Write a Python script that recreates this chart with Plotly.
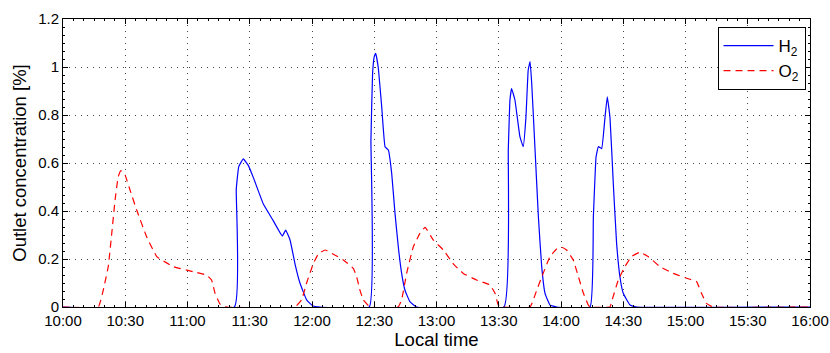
import pandas as pd
import plotly.graph_objects as go

# minutes after 10:00
h2_min = [0, 82.6, 83.5, 84.7, 86.9, 89.3, 91.7, 96.5, 101.3, 105.7, 107.3, 109.4, 111.8, 114.2, 117.4, 120.6,
          147.6, 148.4, 149.2, 150.0, 150.7, 151.9, 153.6, 155.2, 156.8, 158.4, 160.0, 161.6, 163.2, 164.8, 167.2, 170.4,
          212.5, 214.6, 215.4, 216.2, 217.8, 220.2, 221.8, 223.1, 224.2, 225.1, 225.9, 227.5, 229.1, 230.7, 232.3, 234.7, 237.9,
          254.0, 255.6, 256.9, 258.0, 259.6, 261.2, 262.3, 263.6, 265.2, 266.8, 268.4, 270.0, 273.3, 276.5, 360]
h2_val = [0, 0, 0.49, 0.585, 0.617, 0.59, 0.54, 0.43, 0.36, 0.296, 0.32, 0.28, 0.18, 0.10, 0.03, 0.004,
          0, 0.696, 0.974, 1.043, 1.057, 1.0, 0.834, 0.668, 0.654, 0.557, 0.39, 0.25, 0.14, 0.07, 0.022, 0,
          0, 0.654, 0.8625, 0.91, 0.8625, 0.71, 0.668, 0.79, 0.9875, 1.022, 0.93, 0.654, 0.376, 0.168, 0.057, 0.008, 0,
          0, 0.376, 0.626, 0.668, 0.66, 0.79, 0.876, 0.79, 0.515, 0.265, 0.126, 0.057, 0.008, 0, 0]

o2_min = [0, 17.0, 19.4, 21.8, 23.5, 25.1, 26.6, 27.9, 29.9, 32.3, 35.5, 40.3, 45.2, 53.2, 62.8, 69.2, 71.6, 73.3, 75.7, 78.9,
          111.8, 115.0, 117.4, 120.6, 123.0, 126.3, 130.3, 135.1, 139.9, 141.5, 143.1, 144.7, 147.9,
          161.5, 163.2, 165.6, 168.8, 172.0, 174.5, 178.4, 183.3, 188.1, 192.9, 199.3, 205.8, 208.2, 209.8, 212.2,
          225.1, 228.3, 231.4, 234.7, 237.9, 240.3, 242.7, 245.9, 248.4, 250.8, 253.2, 254.0,
          263.6, 264.4, 267.6, 270.8, 274.0, 278.0, 282.0, 287.7, 294.1, 300.5, 305.3, 307.7, 310.1, 313.3, 360]
o2_val = [0, 0, 0.07, 0.168, 0.307, 0.446, 0.543, 0.568, 0.55, 0.4875, 0.404, 0.293, 0.21, 0.168, 0.147, 0.133, 0.1125, 0.057, 0.012, 0,
          0, 0.03, 0.10, 0.18, 0.22, 0.2375, 0.22, 0.196, 0.161, 0.126, 0.07, 0.03, 0,
          0, 0.03, 0.14, 0.25, 0.307, 0.332, 0.28, 0.2375, 0.18, 0.14, 0.1125, 0.092, 0.057, 0.008, 0,
          0, 0.07, 0.14, 0.21, 0.242, 0.249, 0.2375, 0.196, 0.126, 0.057, 0.008, 0,
          0, 0.022, 0.1125, 0.168, 0.21, 0.228, 0.21, 0.168, 0.14, 0.12, 0.106, 0.057, 0.015, 0, 0]

start = pd.Timestamp("2020-01-01 10:00")
h2_t = start + pd.to_timedelta(h2_min, unit="m")
o2_t = start + pd.to_timedelta(o2_min, unit="m")

fig = go.Figure()
fig.add_trace(go.Scatter(x=h2_t, y=h2_val, mode="lines", name="H<sub>2</sub>",
                         line=dict(color="#0000ff", width=1.2, shape="spline", smoothing=0.3)))
fig.add_trace(go.Scatter(x=o2_t, y=o2_val, mode="lines", name="O<sub>2</sub>",
                         line=dict(color="#ff0000", width=1.2, dash="7px,5px", shape="spline", smoothing=0.3)))

axis_common = dict(
    showline=True, linecolor="black", linewidth=1, mirror="ticks",
    ticks="inside", ticklen=5, tickcolor="black",
    showgrid=True, gridcolor="#444", gridwidth=1, griddash="1px,5px",
    zeroline=False, tickfont=dict(size=15, color="black"), automargin=False,
)

fig.update_layout(
    width=830, height=353,
    margin=dict(l=63, r=20, t=19, b=46),
    plot_bgcolor="white", paper_bgcolor="white",
    font=dict(family="Liberation Sans, Arial, sans-serif", color="black"),
    showlegend=True,
    legend=dict(x=0.994, y=0.972, xanchor="right", yanchor="top",
                bordercolor="black", borderwidth=1, bgcolor="white",
                font=dict(size=17), itemwidth=50, tracegroupgap=4),
    xaxis=dict(
        axis_common,
        range=[start, start + pd.Timedelta(hours=6)],
        dtick=30 * 60 * 1000, tickformat="%H:%M",
        minor=dict(dtick=5 * 60 * 1000, ticks="inside", ticklen=2, tickcolor="black", showgrid=False),
        title=dict(text="Local time", font=dict(size=18.5), standoff=1),
    ),
    yaxis=dict(
        axis_common,
        range=[0, 1.2], dtick=0.2, tickformat="~g",
        minor=dict(dtick=0.2 / 6, ticks="inside", ticklen=2, tickcolor="black", showgrid=False),
        title=dict(text="Outlet concentration [%]", font=dict(size=18.5), standoff=6),
    ),
)

# drop the default page margin so the figure sits at the window's corner
fig.write_html("out.html", config={"displayModeBar": False},
               post_script="document.body.style.margin='0';")
